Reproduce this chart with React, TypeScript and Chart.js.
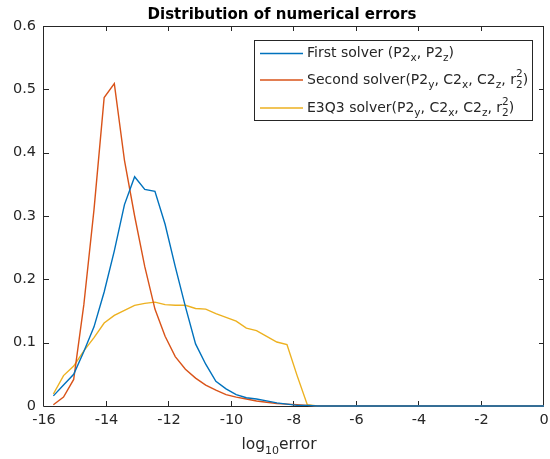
import React, { useEffect, useRef } from "react";
import { Chart, registerables } from "chart.js";

Chart.register(...registerables);

// ---- data ----
const X_VALUES = [
  -15.7, -15.375, -15.05, -14.725, -14.4, -14.075, -13.75, -13.425, -13.1, -12.775,
  -12.45, -12.125, -11.8, -11.475, -11.15, -10.825, -10.5, -10.175, -9.85, -9.525,
  -9.2, -8.875, -8.55, -8.225, -7.9, -7.575, -7.25, -6.925, -6.6, -6.275,
  -5.95, -5.625, -5.3, -4.975, -4.65, -4.325, -4.0, -3.675, -3.35, -3.025,
  -2.7, -2.375, -2.05, -1.725, -1.4, -1.075, -0.75, -0.425, -0.1, 0.225,
];
const FIRST_SOLVER = [
  0.016, 0.033, 0.05, 0.086, 0.125, 0.18, 0.245, 0.318, 0.362, 0.342,
  0.339, 0.287, 0.22, 0.157, 0.098, 0.066, 0.039, 0.027, 0.018, 0.013,
  0.011, 0.008, 0.005, 0.003, 0.001, 0.001, 0, 0, 0, 0,
  0, 0, 0, 0, 0, 0, 0, 0, 0, 0,
  0, 0, 0, 0, 0, 0, 0, 0, 0, 0,
];
const SECOND_SOLVER = [
  0.002, 0.014, 0.042, 0.16, 0.31, 0.487, 0.509, 0.388, 0.3, 0.22,
  0.153, 0.11, 0.078, 0.058, 0.044, 0.033, 0.025, 0.018, 0.014, 0.011,
  0.008, 0.006, 0.004, 0.003, 0.002, 0.001, 0, 0, 0, 0,
  0, 0, 0, 0, 0, 0, 0, 0, 0, 0,
  0, 0, 0, 0, 0, 0, 0, 0, 0, 0,
];
const E3Q3_SOLVER = [
  0.019, 0.048, 0.063, 0.087, 0.108, 0.131, 0.143, 0.151, 0.159, 0.162,
  0.164, 0.16, 0.159, 0.159, 0.154, 0.153, 0.146, 0.14, 0.134, 0.123,
  0.119, 0.11, 0.101, 0.097, 0.048, 0.002, 0, 0, 0, 0,
  0, 0, 0, 0, 0, 0, 0, 0, 0, 0,
  0, 0, 0, 0, 0, 0, 0, 0, 0, 0,
];
const X_TICKS = [-16, -14, -12, -10, -8, -6, -4, -2, 0];
const Y_TICKS = [0, 0.1, 0.2, 0.3, 0.4, 0.5, 0.6];
const TITLE = "Distribution of numerical errors";

type Part = { t?: string; sub?: string; sup?: string };
const X_LABEL: Part[] = [{ t: "log" }, { sub: "10" }, { t: "error" }];
const LEGEND_ITEMS: { color: string; parts: Part[] }[] = [
  {
    color: "#0072BD",
    parts: [{ t: "First solver (P2" }, { sub: "x" }, { t: ", P2" }, { sub: "z" }, { t: ")" }],
  },
  {
    color: "#D95319",
    parts: [
      { t: "Second solver(P2" }, { sub: "y" }, { t: ", C2" }, { sub: "x" },
      { t: ", C2" }, { sub: "z" }, { t: ", r" }, { sup: "2", sub: "2" }, { t: ")" },
    ],
  },
  {
    color: "#EDB120",
    parts: [
      { t: "E3Q3 solver(P2" }, { sub: "y" }, { t: ", C2" }, { sub: "x" },
      { t: ", C2" }, { sub: "z" }, { t: ", r" }, { sup: "2", sub: "2" }, { t: ")" },
    ],
  },
];

const FONT = "'DejaVu Sans', sans-serif";
const AXIS_COLOR = "#262626";

function richWidth(ctx: CanvasRenderingContext2D, parts: Part[], size: number, subSize: number) {
  let w = 0;
  for (const p of parts) {
    if (p.t !== undefined) {
      ctx.font = `${size}px ${FONT}`;
      w += ctx.measureText(p.t).width;
    } else {
      ctx.font = `${subSize}px ${FONT}`;
      w += Math.max(p.sub ? ctx.measureText(p.sub).width : 0, p.sup ? ctx.measureText(p.sup).width : 0);
    }
  }
  return w;
}

function drawRich(
  ctx: CanvasRenderingContext2D, x: number, y: number, parts: Part[],
  size: number, subSize: number, subDy: number, supDy: number
) {
  let cx = x;
  ctx.textBaseline = "alphabetic";
  ctx.textAlign = "left";
  for (const p of parts) {
    if (p.t !== undefined) {
      ctx.font = `${size}px ${FONT}`;
      ctx.fillText(p.t, cx, y);
      cx += ctx.measureText(p.t).width;
    } else {
      ctx.font = `${subSize}px ${FONT}`;
      let w = 0;
      if (p.sup) {
        ctx.fillText(p.sup, cx, y + supDy);
        w = Math.max(w, ctx.measureText(p.sup).width);
      }
      if (p.sub) {
        ctx.fillText(p.sub, cx, y + subDy);
        w = Math.max(w, ctx.measureText(p.sub).width);
      }
      cx += w;
    }
  }
}

const decorPlugin = {
  id: "matlabDecor",
  beforeDatasetsDraw(chart: any) {
    const { ctx, chartArea } = chart;
    const { left, right, top, bottom } = chartArea;
    const xs = chart.scales.x;
    const ys = chart.scales.y;
    ctx.save();
    ctx.strokeStyle = AXIS_COLOR;
    ctx.lineWidth = 1;
    ctx.beginPath();
    ctx.rect(Math.round(left) - 0.5, Math.round(top) + 0.5, Math.round(right - left), Math.round(bottom - top));
    ctx.stroke();
    const tl = 5;
    ctx.beginPath();
    for (const v of X_TICKS) {
      const px = Math.round(xs.getPixelForValue(v)) - 0.5;
      ctx.moveTo(px, bottom);
      ctx.lineTo(px, bottom - tl);
      ctx.moveTo(px, top);
      ctx.lineTo(px, top + tl);
    }
    for (const v of Y_TICKS) {
      const py = Math.round(ys.getPixelForValue(v)) + 0.5;
      ctx.moveTo(left, py);
      ctx.lineTo(left + tl, py);
      ctx.moveTo(right, py);
      ctx.lineTo(right - tl, py);
    }
    ctx.stroke();
    ctx.restore();
  },
  afterDraw(chart: any) {
    const { ctx } = chart;
    ctx.save();
    // title
    ctx.fillStyle = "#000000";
    ctx.font = `bold 15px ${FONT}`;
    ctx.textAlign = "center";
    ctx.textBaseline = "alphabetic";
    ctx.fillText(TITLE, 282, 18.5);

    // x label
    ctx.fillStyle = AXIS_COLOR;
    const xw = richWidth(ctx, X_LABEL, 15.5, 11);
    drawRich(ctx, 279 - xw / 2, 449, X_LABEL, 15.5, 11, 5, -7);

    // legend
    const bx = 254.5, by = 40.5, bw = 278, bh = 80;
    ctx.fillStyle = "#ffffff";
    ctx.fillRect(bx, by, bw, bh);
    ctx.strokeStyle = AXIS_COLOR;
    ctx.lineWidth = 1;
    ctx.strokeRect(bx, by, bw, bh);
    const lineYs = [53.5, 80, 108];
    const textYs = [57, 84, 111.5];
    LEGEND_ITEMS.forEach((item, i) => {
      ctx.strokeStyle = item.color;
      ctx.lineWidth = 1.5;
      ctx.beginPath();
      ctx.moveTo(260, lineYs[i]);
      ctx.lineTo(303, lineYs[i]);
      ctx.stroke();
      ctx.fillStyle = AXIS_COLOR;
      drawRich(ctx, 307, textYs[i], item.parts, 14, 10.5, 4, -7);
    });
    ctx.restore();
  },
};

function makeData(values: number[]) {
  return X_VALUES.map((x, i) => ({ x, y: values[i] }));
}

export default function App() {
  const canvasRef = useRef<HTMLCanvasElement | null>(null);

  useEffect(() => {
    document.body.style.margin = "0";
    const canvas = canvasRef.current;
    if (!canvas) return;
    const tickFont = { family: FONT, size: 14.5 };
    const clip = { left: 0, top: 0, right: 0, bottom: 3 } as any;
    const chart = new Chart(canvas, {
      type: "line",
      data: {
        datasets: [
          { label: "First solver", data: makeData(FIRST_SOLVER), borderColor: "#0072BD", borderWidth: 1.4, pointRadius: 0, tension: 0, clip },
          { label: "Second solver", data: makeData(SECOND_SOLVER), borderColor: "#D95319", borderWidth: 1.4, pointRadius: 0, tension: 0, clip },
          { label: "E3Q3 solver", data: makeData(E3Q3_SOLVER), borderColor: "#EDB120", borderWidth: 1.4, pointRadius: 0, tension: 0, clip },
        ],
      },
      options: {
        responsive: false,
        animation: false,
        devicePixelRatio: 1,
        layout: { padding: { top: 26, right: 6, left: 0, bottom: 0 } },
        plugins: {
          legend: { display: false },
          title: { display: false },
          tooltip: { enabled: false },
        },
        scales: {
          x: {
            type: "linear",
            min: -16,
            max: 0,
            afterBuildTicks: (s: any) => {
              s.ticks = X_TICKS.map((v) => ({ value: v }));
            },
            afterFit: (s: any) => {
              s.height = 53;
              s.paddingLeft = 0;
              s.paddingRight = 0;
            },
            ticks: { font: tickFont, color: AXIS_COLOR, padding: 6, maxRotation: 0, autoSkip: false },
            grid: { display: false, drawTicks: false },
            border: { display: false },
          },
          y: {
            type: "linear",
            min: 0,
            max: 0.6,
            afterBuildTicks: (s: any) => {
              s.ticks = Y_TICKS.map((v) => ({ value: v }));
            },
            afterFit: (s: any) => {
              s.width = 44;
              s.paddingTop = 0;
              s.paddingBottom = 0;
            },
            ticks: { font: tickFont, color: AXIS_COLOR, padding: 8, autoSkip: false },
            grid: { display: false, drawTicks: false },
            border: { display: false },
          },
        },
      } as any,
      plugins: [decorPlugin],
    });
    return () => chart.destroy();
  }, []);

  return (
    <div style={{ width: 550, height: 459, background: "#ffffff" }}>
      <canvas ref={canvasRef} width={550} height={459} style={{ display: "block" }} />
    </div>
  );
}
